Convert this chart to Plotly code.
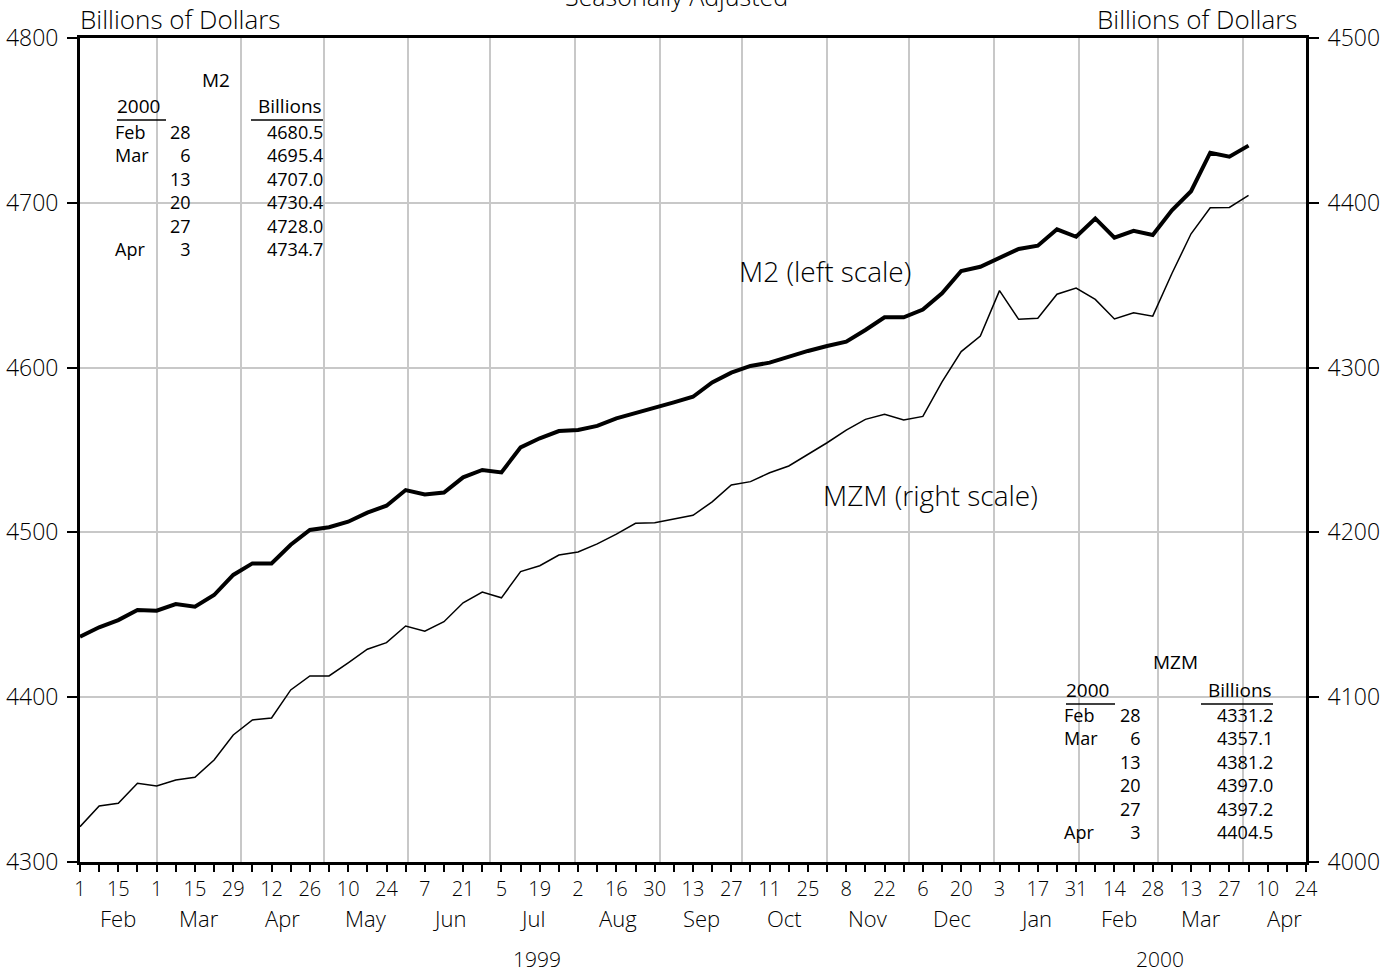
import plotly.graph_objects as go
import pandas as pd

# ---------------- data ----------------
start_date = "1999-02-01"
m2 = [4436.7, 4442.4, 4446.8, 4452.9, 4452.5, 4456.5, 4454.9, 4462.0, 4474.2, 4481.2,
      4481.2, 4492.5, 4501.5, 4503.1, 4506.5, 4512.0, 4516.2, 4525.7, 4523.0, 4524.2,
      4533.4, 4537.9, 4536.4, 4551.6, 4557.1, 4561.5, 4562.1, 4564.6, 4569.2, 4572.3,
      4575.7, 4578.9, 4582.3, 4591.0, 4596.9, 4601.0, 4603.0, 4606.6, 4610.1, 4613.1,
      4615.7, 4622.8, 4630.5, 4630.5, 4635.2, 4645.1, 4658.6, 4661.2, 4666.7, 4672.0,
      4674.0, 4683.9, 4679.4, 4690.5, 4678.8, 4683.0, 4680.5, 4695.4, 4707.0, 4730.4,
      4728.0, 4734.7]
mzm = [4021.4, 4034.0, 4035.6, 4047.8, 4046.1, 4049.8, 4051.4, 4061.9, 4077.1, 4086.2,
       4087.4, 4104.4, 4112.9, 4112.9, 4120.9, 4129.1, 4133.1, 4143.2, 4140.0, 4145.8,
       4157.3, 4163.8, 4160.3, 4176.2, 4179.8, 4186.3, 4188.1, 4193.0, 4199.0, 4205.5,
       4205.9, 4208.3, 4210.4, 4218.5, 4228.8, 4230.8, 4236.2, 4240.3, 4247.4, 4254.4,
       4262.1, 4268.6, 4271.7, 4268.2, 4270.4, 4291.4, 4309.7, 4319.2, 4346.7, 4329.3,
       4329.9, 4344.5, 4348.3, 4341.4, 4329.5, 4333.3, 4331.2, 4357.1, 4381.2, 4397.0,
       4397.2, 4404.5]
dates = pd.date_range(start_date, periods=len(m2), freq="7D")

table_year = "2000"
table_months = ["Feb", "Mar", "", "", "", "Apr"]
table_days = ["28", "6", "13", "20", "27", "3"]
m2_table = m2[-6:]
mzm_table = mzm[-6:]

x_start, x_end = "1999-02-01", "2000-04-24"
left_range = [4300, 4800]
right_range = [4000, 4500]
year_labels = ["1999", "2000"]
year_spans = [("1999-02-01", "2000-01-01"), ("2000-01-01", "2000-05-01")]

tick_dates = pd.date_range(x_start, x_end, freq="7D")
tick_text = [str(d.day) if i % 2 == 0 else "" for i, d in enumerate(tick_dates)]
month_starts = pd.date_range("1999-03-01", "2000-04-01", freq="MS")
label_months = pd.date_range("1999-02-01", "2000-04-01", freq="MS")

# ---------------- layout helpers ----------------
W, H = 1393, 974
# plot area in page pixels
L, R, T, B = 80, 1306, 38, 862
def px(x):
    return (x - L) / (R - L)
def py(y):
    return (B - y) / (B - T)

FONT = "Open Sans, DejaVu Sans, sans-serif"
WEIGHT = 300
TICKFONT = "Open Sans, DejaVu Sans, sans-serif"

fig = go.Figure()
fig.add_trace(go.Scatter(x=dates, y=m2, mode="lines", name="M2",
                         line=dict(color="black", width=4), yaxis="y"))
fig.add_trace(go.Scatter(x=dates, y=mzm, mode="lines", name="MZM",
                         line=dict(color="black", width=1.5), yaxis="y2"))

annotations = []
shapes = []

def txt(text, x, y, size, xanchor="center", yanchor="middle", xref="paper", align="center",
        weight=WEIGHT):
    annotations.append(dict(text=text, x=x, y=y, xref=xref, yref="paper",
                            xanchor=xanchor, yanchor=yanchor, showarrow=False, align=align,
                            font=dict(family=FONT, size=size, color="black", weight=weight)))

# month labels
for d in label_months:
    nxt = d + pd.offsets.MonthBegin(1)
    mid = d + (nxt - d) / 2
    txt(d.strftime("%b"), mid, py(918), 22, xref="x")
# year labels
for lab, (a, b) in zip(year_labels, year_spans):
    a, b = pd.Timestamp(a), pd.Timestamp(b)
    txt(lab, a + (b - a) / 2, py(959), 21, xref="x")

# top texts
txt("Billions of Dollars", px(78), py(19), 26, xanchor="left")
txt("Billions of Dollars", px(1299), py(19), 26, xanchor="right")
txt("Seasonally Adjusted", px(676), py(15), 25, yanchor="bottom")

# series labels
txt("M2 (left scale)", px(825), py(271), 28)
txt("MZM (right scale)", px(930), py(495), 28)

# tables
TS = 18
TW = 400
def table(title, values, title_x, title_y, mon_x, day_r, val_r, head_y, row0, step, box):
    x0, y0, x1, y1 = box
    shapes.append(dict(type="rect", xref="paper", yref="paper", x0=px(x0), x1=px(x1),
                       y0=py(y1), y1=py(y0), fillcolor="white", line=dict(width=0),
                       layer="between"))
    txt(title, px(title_x), py(title_y), TS + 1, weight=TW)
    txt(table_year, px(mon_x), py(head_y), TS + 1, xanchor="left", weight=TW)
    txt("Billions", px(val_r + 2), py(head_y), TS + 1, xanchor="right", weight=TW)
    shapes.append(dict(type="line", xref="paper", yref="paper", x0=px(mon_x + 2), x1=px(mon_x + 51),
                       y0=py(head_y + 14), y1=py(head_y + 14), line=dict(color="black", width=1.5)))
    shapes.append(dict(type="line", xref="paper", yref="paper", x0=px(val_r - 71), x1=px(val_r + 1),
                       y0=py(head_y + 14), y1=py(head_y + 14), line=dict(color="black", width=1.5)))
    mid = py(row0 + step * (len(values) - 1) / 2)
    mon_col = "<br>".join(m if m else "&nbsp;" for m in table_months)
    day_col = "<br>".join(table_days)
    val_col = "<br>".join(f"{v:.1f}" for v in values)
    txt(mon_col, px(mon_x - 2), mid, TS, xanchor="left", align="left", weight=TW)
    txt(day_col, px(day_r + 2), mid, TS, xanchor="right", align="right", weight=TW)
    txt(val_col, px(val_r + 3), mid, TS, xanchor="right", align="right", weight=TW)

table("M2", m2_table, 216, 80, 115, 191, 322, 106, 135, 22.2, (90, 53, 330, 266))
table("MZM", mzm_table, 1175, 662, 1064, 1141, 1272, 690, 718, 22.2, (1045, 645, 1284, 862))

fig.update_layout(
    width=W, height=H,
    margin=dict(l=L, r=W - R, t=T, b=H - B, pad=0, autoexpand=False),
    paper_bgcolor="white", plot_bgcolor="white",
    showlegend=False,
    font=dict(family=FONT, color="black"),
    annotations=annotations, shapes=shapes,
    xaxis=dict(
        type="date", range=[x_start, x_end], automargin=False,
        tickmode="array", tickvals=tick_dates, ticktext=tick_text,
        ticks="outside", ticklen=7, tickwidth=1.5, tickcolor="black",
        tickfont=dict(family=TICKFONT, size=20, color="black", weight=WEIGHT),
        showgrid=False, zeroline=False,
        showline=True, linecolor="black", linewidth=2.5, mirror=True,
        minor=dict(tickmode="array", tickvals=month_starts, showgrid=True,
                   gridcolor="#c8c8c8", gridwidth=1.5, ticks=""),
    ),
    yaxis=dict(
        range=left_range, tickmode="linear", tick0=4300, dtick=100, automargin=False,
        ticks="outside", ticklen=10, tickwidth=1.5, tickcolor="black", ticklabelstandoff=4,
        tickfont=dict(family=TICKFONT, size=23, color="black", weight=WEIGHT),
        showgrid=True, gridcolor="#c8c8c8", gridwidth=1.5, zeroline=False,
        showline=True, linecolor="black", linewidth=3,
    ),
    yaxis2=dict(
        range=right_range, tickmode="linear", tick0=4000, dtick=100, automargin=False,
        overlaying="y", side="right",
        ticks="outside", ticklen=10, tickwidth=1.5, tickcolor="black", ticklabelstandoff=4,
        tickfont=dict(family=TICKFONT, size=23, color="black", weight=WEIGHT),
        showgrid=False, zeroline=False,
        showline=True, linecolor="black", linewidth=3,
    ),
)

fig.write_html("out.html", config={"displayModeBar": False},
               post_script="document.body.style.margin='0px';")
